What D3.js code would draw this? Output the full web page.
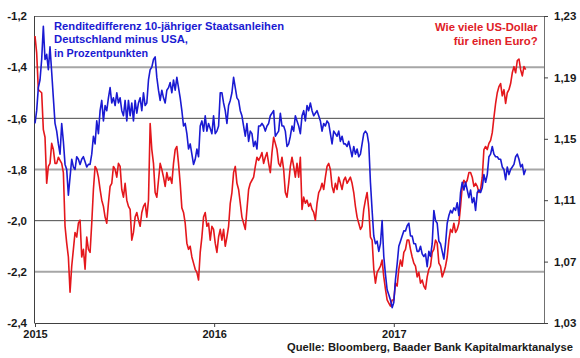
<!DOCTYPE html>
<html><head><meta charset="utf-8">
<script src="https://cdn.jsdelivr.net/npm/d3@7"></script>
<style>
body{margin:0;background:#fff}
svg{display:block}
text{font-family:"Liberation Sans",Arial,sans-serif;font-weight:bold}
</style>
</head><body>
<svg id="c" width="580" height="358"></svg>
<script>
// Yield spread Germany minus USA, 10y government bonds (percentage points), sampled ~twice weekly
const spreadValues = [
-1.62,-1.57,-1.48,-1.45,-1.37,-1.24,-1.37,-1.35,-1.41,-1.32,
-1.42,-1.52,-1.62,-1.65,-1.70,-1.74,-1.62,-1.69,-1.78,-1.80,
-1.90,-1.83,-1.76,-1.79,-1.80,-1.75,-1.76,-1.78,-1.76,-1.75,
-1.77,-1.79,-1.78,-1.78,-1.74,-1.67,-1.70,-1.61,-1.66,-1.57,
-1.53,-1.61,-1.55,-1.57,-1.52,-1.48,-1.54,-1.52,-1.55,-1.50,
-1.54,-1.52,-1.57,-1.59,-1.53,-1.61,-1.53,-1.59,-1.54,-1.61,
-1.53,-1.58,-1.54,-1.52,-1.57,-1.50,-1.55,-1.54,-1.45,-1.41,
-1.40,-1.37,-1.36,-1.44,-1.49,
-1.53,-1.49,-1.52,-1.54,-1.49,-1.48,-1.46,-1.50,-1.45,-1.49,
-1.44,-1.48,-1.52,-1.57,-1.63,-1.62,-1.66,-1.72,-1.70,-1.74,
-1.78,-1.76,-1.72,-1.75,-1.63,-1.61,-1.65,-1.59,-1.65,-1.62,
-1.64,-1.66,-1.59,-1.66,-1.65,-1.63,-1.50,-1.50,-1.54,-1.57,
-1.62,-1.55,-1.53,-1.50,-1.44,-1.48,-1.52,-1.53,-1.57,-1.59,
-1.63,-1.67,-1.62,-1.69,-1.65,-1.66,-1.71,-1.69,-1.72,-1.63,
-1.63,-1.62,-1.63,-1.65,-1.63,-1.62,-1.59,-1.58,-1.57,-1.67,
-1.66,-1.65,-1.58,-1.63,-1.63,
-1.65,-1.71,-1.70,-1.67,-1.63,-1.65,-1.59,-1.61,-1.63,-1.66,
-1.59,-1.57,-1.61,-1.55,-1.57,-1.54,-1.57,-1.59,-1.58,-1.57,
-1.59,-1.61,-1.65,-1.62,-1.63,-1.61,-1.62,-1.66,-1.70,-1.65,
-1.66,-1.67,-1.65,-1.69,-1.67,-1.70,-1.70,-1.71,-1.69,-1.72,
-1.75,-1.71,-1.74,-1.72,-1.75,-1.74,-1.70,-1.66,-1.65,-1.66,
-1.70,-1.85,-1.96,-2.06,-2.09,-2.08,-2.12,-2.09,-2.00,-2.14,
-2.21,-2.27,-2.29,-2.31,-2.34,-2.32,-2.23,-2.17,-2.10,-2.08,
-2.06,-2.04,-2.04,-2.02,-2.01,
-2.06,-2.06,-2.09,-2.09,-2.12,-2.12,-2.10,-2.13,-2.14,-2.13,
-2.18,-2.12,-2.14,-2.09,-1.96,-2.00,-2.01,-2.08,-2.09,-2.12,
-2.15,-2.09,-2.01,-1.98,-1.96,-1.97,-1.95,-1.96,-1.93,-1.98,
-1.89,-1.85,-1.88,-1.85,-1.88,-1.91,-1.88,-1.93,-1.91,-1.96,
-1.89,-1.88,-1.89,-1.87,-1.82,-1.85,-1.82,-1.75,-1.74,-1.71,
-1.74,-1.75,-1.75,-1.76,-1.76,-1.79,-1.80,-1.84,-1.79,-1.82,
-1.80,-1.79,-1.78,-1.75,-1.74,-1.76,-1.79,-1.78,-1.82,-1.80
];
// EUR/USD, same sampling
const eurusdValues = [
1.217,1.206,1.182,1.181,1.180,1.156,1.151,1.121,1.132,1.134,
1.147,1.143,1.134,1.134,1.138,1.136,1.134,1.128,1.093,1.082,
1.073,1.050,1.067,1.078,1.089,1.086,1.095,1.097,1.073,1.078,
1.065,1.086,1.078,1.076,1.095,1.117,1.132,1.130,1.125,1.117,
1.110,1.106,1.099,1.095,1.108,1.119,1.121,1.132,1.130,1.125,
1.134,1.132,1.117,1.112,1.121,1.110,1.106,1.104,1.084,1.089,
1.099,1.102,1.097,1.093,1.102,1.106,1.108,1.099,1.110,1.160,
1.143,1.134,1.115,1.112,1.123,
1.134,1.130,1.125,1.119,1.128,1.123,1.125,1.121,1.134,1.143,
1.145,1.134,1.121,1.105,1.102,1.095,1.082,1.078,1.080,1.073,
1.069,1.065,1.063,1.058,1.076,1.086,1.099,1.102,1.093,1.095,
1.084,1.093,1.091,1.082,1.076,1.086,1.091,1.084,1.091,1.080,
1.086,1.093,1.108,1.115,1.128,1.132,1.121,1.117,1.108,1.099,
1.095,1.091,1.104,1.117,1.121,1.123,1.125,1.132,1.138,1.136,
1.138,1.141,1.134,1.138,1.141,1.134,1.128,1.141,1.151,1.147,
1.143,1.134,1.132,1.138,1.130,
1.115,1.112,1.121,1.132,1.138,1.132,1.125,1.134,1.125,1.138,
1.104,1.112,1.108,1.110,1.106,1.108,1.104,1.102,1.097,1.108,
1.115,1.117,1.121,1.117,1.125,1.132,1.134,1.130,1.119,1.115,
1.121,1.117,1.125,1.121,1.117,1.123,1.125,1.121,1.123,1.125,
1.121,1.115,1.106,1.099,1.095,1.091,1.093,1.104,1.110,1.115,
1.104,1.086,1.084,1.065,1.056,1.063,1.065,1.067,1.071,1.060,
1.052,1.045,1.043,1.041,1.045,1.045,1.056,1.054,1.065,1.071,
1.067,1.076,1.078,1.084,1.084,
1.078,1.073,1.069,1.067,1.060,1.063,1.056,1.058,1.054,1.052,
1.060,1.065,1.067,1.076,1.078,1.084,1.082,1.069,1.067,1.060,
1.063,1.067,1.073,1.084,1.091,1.089,1.095,1.089,1.091,1.095,
1.106,1.119,1.123,1.121,1.123,1.128,1.128,1.125,1.119,1.121,
1.119,1.115,1.117,1.125,1.143,1.145,1.143,1.147,1.149,1.154,
1.164,1.173,1.180,1.184,1.186,1.178,1.182,1.173,1.180,1.182,
1.186,1.193,1.197,1.193,1.201,1.202,1.195,1.191,1.197,1.195
];
const sampleStart = new Date(2015, 0, 1);
const sampleStepDays = 3.4;

const leftTicks = [-1.2, -1.4, -1.6, -1.8, -2.0, -2.2, -2.4];
const rightTicks = [1.23, 1.19, 1.15, 1.11, 1.07, 1.03];
const yearTicks = [2015, 2016, 2017];
const spreadTitle = ["Renditedifferenz 10-jähriger Staatsanleihen", "Deutschland minus USA,", "in Prozentpunkten"];
const fxTitle = ["Wie viele US-Dollar", "für einen Euro?"];
const sourceText = "Quelle: Bloomberg, Baader Bank Kapitalmarktanalyse";

const BLUE = "#1a1ad2", RED = "#e4171c";
const L = 35, R = 544, T = 16, B = 323;

const svg = d3.select("#c");
const x = d3.scaleTime().domain([new Date(2015,0,1), new Date(2017,10,3)]).range([L, R]);
const yL = d3.scaleLinear().domain([-2.4, -1.2]).range([B, T]);
const yR = d3.scaleLinear().domain([1.03, 1.23]).range([B, T]);
const comma = f => v => d3.format(f)(v).replace(".", ",").replace("−", "-");

const dateAt = i => new Date(sampleStart.getTime() + i * sampleStepDays * 864e5);

// gridlines
leftTicks.forEach((t, i) => {
  if (i === 0 || i === leftTicks.length - 1) return;
  const heavy = i % 2 === 1;
  svg.append("line").attr("x1", L).attr("x2", R)
    .attr("y1", yL(t)).attr("y2", yL(t))
    .attr("stroke", heavy ? "#a6a6a6" : "#4a4a4a")
    .attr("stroke-width", heavy ? 2 : 1);
});
// frame
svg.append("line").attr("x1", L).attr("x2", R).attr("y1", T + 0.5).attr("y2", T + 0.5).attr("stroke", "#707070").attr("stroke-width", 1);
svg.append("line").attr("x1", R + 0.5).attr("x2", R + 0.5).attr("y1", T).attr("y2", B).attr("stroke", "#707070").attr("stroke-width", 1);
svg.append("line").attr("x1", L - 0.5).attr("x2", L - 0.5).attr("y1", T).attr("y2", B + 0.5).attr("stroke", "#404040").attr("stroke-width", 1);
svg.append("line").attr("x1", L).attr("x2", R + 1).attr("y1", B + 0.5).attr("y2", B + 0.5).attr("stroke", "#404040").attr("stroke-width", 1);

// axes
const gl = svg.append("g").attr("transform", `translate(${L},0)`)
  .call(d3.axisLeft(yL).tickValues(leftTicks).tickSize(0).tickPadding(8).tickFormat(comma(".1f")));
const gr = svg.append("g").attr("transform", `translate(${R},0)`)
  .call(d3.axisRight(yR).tickValues(rightTicks).tickSize(4).tickPadding(6).tickFormat(comma(".2f")));
const gb = svg.append("g").attr("transform", `translate(0,${B})`)
  .call(d3.axisBottom(x).tickValues(yearTicks.map(yv => new Date(yv, 0, 1))).tickSize(4).tickPadding(3).tickFormat(d3.timeFormat("%Y")));
[gl, gr, gb].forEach(g => {
  g.select(".domain").remove();
  g.selectAll(".tick line").attr("stroke", "#404040");
  g.selectAll("text").attr("fill", "#1a1a1a").style("font-size", "11.5px").style("font-family", '"Liberation Sans",Arial,sans-serif').style("font-weight", "bold");
});
gb.selectAll("text").style("font-size", "11px");

// lines
const lineR = d3.line().x((d, i) => x(dateAt(i))).y(d => yR(d));
const lineL = d3.line().x((d, i) => x(dateAt(i))).y(d => yL(d));
svg.append("path").datum(eurusdValues).attr("d", lineR).attr("fill", "none").attr("stroke", RED).attr("stroke-width", 1.6).attr("stroke-linejoin", "round");
svg.append("path").datum(spreadValues).attr("d", lineL).attr("fill", "none").attr("stroke", BLUE).attr("stroke-width", 1.6).attr("stroke-linejoin", "round");

// titles
const blueW = [230, 134, 94];
spreadTitle.forEach((s, i) => {
  svg.append("text").attr("x", 54).attr("y", 30 + i * 13.4).text(s)
    .attr("fill", BLUE).style("font-size", "11.5px")
    .attr("textLength", blueW[i]).attr("lengthAdjust", "spacingAndGlyphs");
});
const redW = [102.7, 84];
fxTitle.forEach((s, i) => {
  svg.append("text").attr("x", 537.7 - redW[i]).attr("y", 31 + i * 14).text(s)
    .attr("fill", "#e02026").style("font-size", "11.5px")
    .attr("textLength", redW[i]).attr("lengthAdjust", "spacingAndGlyphs");
});
svg.append("text").attr("x", 287).attr("y", 351).text(sourceText)
  .attr("fill", "#1a1a1a").style("font-size", "11px")
  .attr("textLength", 286).attr("lengthAdjust", "spacingAndGlyphs");
</script>
</body></html>
